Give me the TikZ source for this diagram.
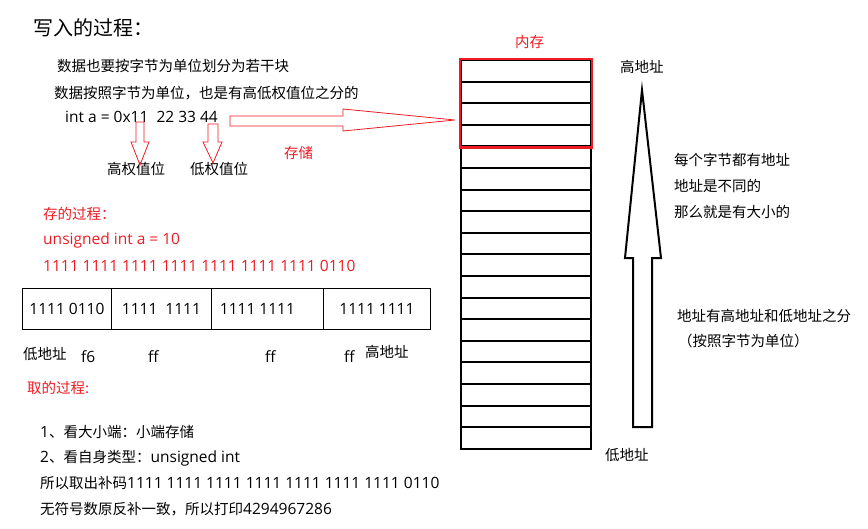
\documentclass[tikz,border=0pt]{standalone}
\usepackage{fontspec}
\setmainfont{Noto Sans CJK SC}
\newfontfamily\latfont{Open Sans}[Scale=1.07]
\definecolor{memred}{RGB}{237,28,36}
\tikzset{
  txt/.style={anchor=west, inner sep=0pt, font=\fontsize{14.5}{16}\selectfont},
  redtxt/.style={txt, text=memred},
  cell/.style={draw, line width=2pt, minimum width=130pt, minimum height=21.6pt, inner sep=0pt, anchor=north west},
  byte/.style={draw, line width=0.8pt, minimum height=41pt, inner sep=0pt, anchor=north west, font=\fontsize{14.5}{16}\selectfont\latfont}
}

\begin{document}
\begin{tikzpicture}[x=1pt,y=-1pt]
\useasboundingbox (0,0) rectangle (868,528);
\node[txt, font=\fontsize{20}{22}\selectfont] (title) at (33,28) {写入的过程：};
\node[txt] (split) at (57,66) {数据也要按字节为单位划分为若干块};
\node[txt] (weight) at (54,93) {数据按照字节为单位，也是有高低权值位之分的};
\node[txt] (decl) at (65,117) {\latfont int a = 0x11\ \ 22 33 44};
\node[txt] (hi) at (107,169) {高权值位};
\node[txt] (lo) at (190,169) {低权值位};
\node[redtxt] (store) at (284,153) {存储};
\draw[memred, line width=0.8pt] (136,122) -- (144,122) -- (144,142) -- (149,142) -- (140,165) -- (131,142) -- (136,142) -- cycle;
\draw[memred, line width=0.8pt] (208,124) -- (218,124) -- (218,142) -- (222,142) -- (213,163) -- (203,142) -- (208,142) -- cycle;
\draw[memred, line width=0.8pt] (230,116) -- (343,116) -- (343,109) -- (455,120) -- (343,131) -- (343,126) -- (230,126) -- cycle;

\node[redtxt] (mem) at (515,42) {内存};
\foreach \i in {0,...,17}
  \node[cell] (cell\i) at (460,{59+21.6*\i}) {};
\draw[memred, line width=2.5pt] (cell0.north west) rectangle (cell3.south east);

\node[txt] (highaddr) at (620,67) {高地址};
\node[txt] (lowaddr) at (605,455) {低地址};
\draw[line width=2pt] (633,427) -- (652,427) -- (652,258) -- (661,258) -- (642,90) -- (625,258) -- (633,258) -- cycle;
\node[txt] (note1) at (674,160) {每个字节都有地址};
\node[txt] (note2) at (674,186) {地址是不同的};
\node[txt] (note3) at (674,212) {那么就是有大小的};
\node[txt] (note4) at (677,316) {地址有高地址和低地址之分};
\node[txt] (note5) at (678,341) {（按照字节为单位）};

\node[redtxt] (save) at (43,214) {存的过程：};
\node[redtxt] (savedecl) at (43,240) {\latfont unsigned int a = 10};
\node[redtxt] (savebits) at (43,266) {\latfont 1111 1111 1111 1111 1111 1111 1111 0110};
\node[byte, minimum width=89pt] (byte0) at (22,288) {\raisebox{-4pt}{1111 0110}};
\node[byte, minimum width=100pt] (byte1) at (111,288) {1111\ \ 1111};
\node[byte, minimum width=112pt] (byte2) at (211,288) {\hspace*{-20pt}1111 1111};
\node[byte, minimum width=107pt] (byte3) at (323,288) {1111 1111};
\node[txt] (lowend) at (23,354) {低地址};
\node[txt] (f6) at (81,357) {\latfont f6};
\node[txt] (ff1) at (148,357) {\latfont ff};
\node[txt] (ff2) at (265,357) {\latfont ff};
\node[txt] (ff3) at (344,357) {\latfont ff};
\node[txt] (highend) at (365,352) {高地址};

\node[redtxt] (load) at (27,388) {取的过程:};
\node[txt] (step1) at (40,432) {{\latfont 1}、看大小端：小端存储};
\node[txt] (step2) at (40,458) {{\latfont 2}、看自身类型：{\latfont unsigned int}};
\node[txt] (step3) at (40,483) {所以取出补码{\latfont 1111 1111 1111 1111 1111 1111 1111 0110}};
\node[txt] (step4) at (40,509) {无符号数原反补一致，所以打印{\latfont 4294967286}};
\end{tikzpicture}
\end{document}
